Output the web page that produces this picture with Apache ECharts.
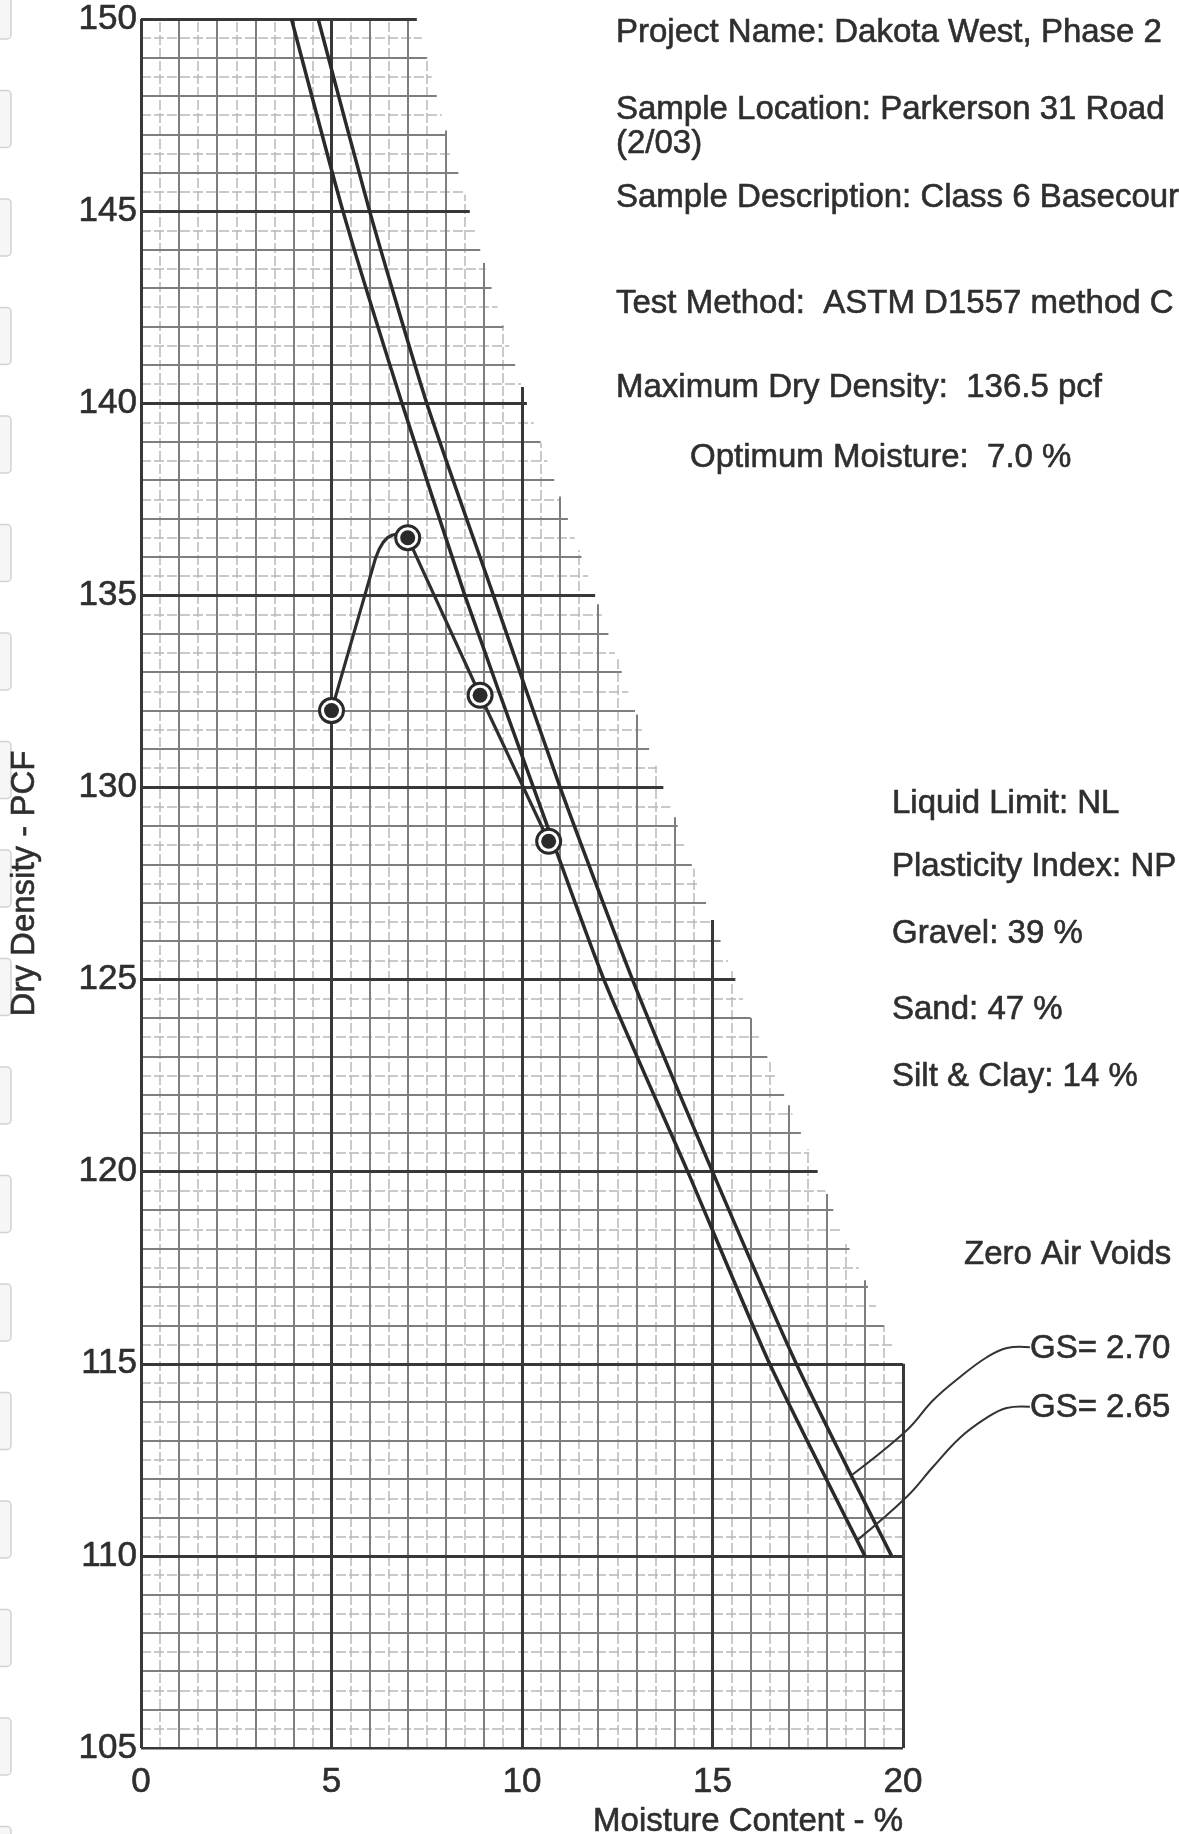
<!DOCTYPE html>
<html><head><meta charset="utf-8">
<script src="https://cdn.jsdelivr.net/npm/echarts@6/dist/echarts.min.js"></script>
<style>html,body{margin:0;padding:0;background:#fff}#c{width:1179px;height:1834px}</style>
</head><body><div id="c"></div>
<script>
// ---- data ----
const xTicks = [0, 5, 10, 15, 20];
const yTicks = [105, 110, 115, 120, 125, 130, 135, 140, 145, 150];
const testPoints = [[5.0, 132.0], [7.0, 136.5], [8.9, 132.4], [10.7, 128.6]];
const curveDrySide = [[5.0, 132.0], [6.15, 135.95], [6.25, 136.2], [6.35, 136.37], [6.47, 136.5], [6.6, 136.57], [6.78, 136.6], [7.0, 136.5]];
const curveWetSide = [[7.0, 136.5], [8.9, 132.4], [10.7, 128.6]];
const zavGs265 = [[3.95, 150], [5.3, 145], [6.85, 140], [8.5, 135], [10.3, 130], [12.15, 125], [14.35, 120], [16.5, 115], [19.0, 110]];
const zavGs270 = [[4.65, 150], [6.0, 145], [7.5, 140], [9.25, 135], [11.0, 130], [12.9, 125], [15.0, 120], [17.2, 115], [19.7, 110]];
const leaderGs270 = [[18.65, 112.1], [20.1, 113.27], [20.79, 114.05], [21.49, 114.65], [22.2, 115.17], [22.73, 115.41], [23.33, 115.43]];
const leaderGs265 = [[18.8, 110.41], [20.1, 111.54], [20.79, 112.32], [21.49, 113.07], [22.19, 113.59], [22.72, 113.85], [23.33, 113.88]];
// edge of the printed graph paper (staircase boundary)
const paperEdgeX = [7.24, 8.0, 8.63, 9.0, 10.13, 11.92, 13.0, 13.71, 15.0, 15.6, 16.0, 17.76, 18.5, 19.06, 19.5, 20.0];
const paperEdgeY = [150, 147.1, 145, 143.65, 140, 135, 131.9, 130, 126.55, 125, 124, 120, 118.2, 117.05, 116, 115];
const infoLines = [
  "Project Name: Dakota West, Phase 2",
  "Sample Location: Parkerson 31 Road",
  "(2/03)",
  "Sample Description: Class 6 Basecourse",
  "Test Method:  ASTM D1557 method C",
  "Maximum Dry Density:  136.5 pcf",
  "Optimum Moisture:  7.0 %"
];
const soilLines = ["Liquid Limit: NL", "Plasticity Index: NP", "Gravel: 39 %", "Sand: 47 %", "Silt & Clay: 14 %"];
const zavTitle = "Zero Air Voids";
const gsLabels = ["GS= 2.70", "GS= 2.65"];

// ---- helpers ----
const FONT = '"Liberation Sans", Arial, sans-serif';
const INK = '#2e2e2e';
function xAt(y) {
  if (y >= paperEdgeY[0]) return paperEdgeX[0];
  if (y <= paperEdgeY[paperEdgeY.length - 1]) return 20;
  for (let i = 0; i < paperEdgeY.length - 1; i++) {
    const y0 = paperEdgeY[i], y1 = paperEdgeY[i + 1];
    if (y <= y0 && y >= y1) return paperEdgeX[i] + (paperEdgeX[i + 1] - paperEdgeX[i]) * (y0 - y) / (y0 - y1);
  }
  return 20;
}
function yAt(x) {
  if (x <= paperEdgeX[0]) return 150;
  if (x >= 20) return 115;
  for (let i = 0; i < paperEdgeX.length - 1; i++) {
    const x0 = paperEdgeX[i], x1 = paperEdgeX[i + 1];
    if (x >= x0 && x <= x1) return paperEdgeY[i] + (paperEdgeY[i + 1] - paperEdgeY[i]) * (x - x0) / (x1 - x0);
  }
  return 115;
}
const gridMajor = [], gridMid = [], gridMinor = [];
function bucket(v) { return (Math.abs(v % 5) < 1e-6) ? gridMajor : (Math.abs(v % 1) < 1e-6 ? gridMid : gridMinor); }
for (let k = 0; k <= 90; k++) {
  const y = 105 + k * 0.5;
  bucket(y).push({ coords: [[0, y], [xAt(y), y]] });
}
for (let k = 0; k <= 40; k++) {
  const x = k * 0.5;
  bucket(x).push({ coords: [[x, 105], [x, yAt(x)]] });
}

const chart = echarts.init(document.getElementById('c'), null, { renderer: 'canvas' });
const labelStyle = { fontSize: 33, color: INK, fontFamily: FONT, textBorderColor: INK, textBorderWidth: 0.6 };
const tickStyle = Object.assign({}, labelStyle, { fontSize: 35 });
chart.setOption({
  animation: false,
  backgroundColor: '#ffffff',
  textStyle: { fontFamily: FONT },
  grid: { left: 141, right: 276, top: 19, bottom: 86, containLabel: false, outerBoundsMode: 'none' },
  xAxis: {
    type: 'value', min: xTicks[0], max: xTicks[xTicks.length - 1], interval: 5,
    axisLine: { show: false }, axisTick: { show: false }, splitLine: { show: false },
    axisLabel: Object.assign({ margin: 17 }, tickStyle),
    name: 'Moisture Content - %', nameLocation: 'end', nameGap: 0,
    nameTextStyle: Object.assign({ align: 'right', verticalAlign: 'top', padding: [57, 0, 0, 0] }, labelStyle)
  },
  yAxis: {
    type: 'value', min: yTicks[0], max: yTicks[yTicks.length - 1], interval: 5,
    axisLine: { show: false }, axisTick: { show: false }, splitLine: { show: false },
    axisLabel: Object.assign({ margin: 4 }, tickStyle),
    name: 'Dry Density - PCF', nameLocation: 'middle', nameGap: 100, nameRotate: 90,
    nameTextStyle: labelStyle
  },
  series: [
    { type: 'lines', coordinateSystem: 'cartesian2d', silent: true, z: 1, data: gridMinor,
      lineStyle: { color: '#b8b8b8', width: 1.5, type: [10, 3], opacity: 1 } },
    { type: 'lines', coordinateSystem: 'cartesian2d', silent: true, z: 2, data: gridMid,
      lineStyle: { color: '#7e7e7e', width: 2, opacity: 1 } },
    { type: 'lines', coordinateSystem: 'cartesian2d', silent: true, z: 3, data: gridMajor,
      lineStyle: { color: '#383838', width: 3, opacity: 1 } },
    { name: 'ZAV GS=2.65', type: 'line', data: zavGs265, showSymbol: false, z: 5, smooth: 0.2,
      lineStyle: { color: '#2a2a2a', width: 3.5 } },
    { name: 'ZAV GS=2.70', type: 'line', data: zavGs270, showSymbol: false, z: 5, smooth: 0.2,
      lineStyle: { color: '#2a2a2a', width: 3.5 } },
    { name: 'Compaction curve (dry side)', type: 'line', data: curveDrySide, showSymbol: false, z: 6,
      lineStyle: { color: '#2e2e2e', width: 3.2, join: 'round' } },
    { name: 'Compaction curve (wet side)', type: 'line', data: curveWetSide, showSymbol: false, z: 6,
      lineStyle: { color: '#2e2e2e', width: 3.2 } },
    { name: 'Test points ring', type: 'scatter', data: testPoints, symbol: 'circle', symbolSize: 24, z: 7,
      itemStyle: { color: '#ffffff', borderColor: '#2a2a2a', borderWidth: 3, opacity: 1 } },
    { name: 'Test points', type: 'scatter', data: testPoints, symbol: 'circle', symbolSize: 15, z: 8,
      itemStyle: { color: '#2a2a2a', opacity: 1 } }
  ]
});

// ---- graphics (text, leaders, scan artefacts) ----
const graphic = [];
for (let k = 0; k < 18; k++) {
  graphic.push({ type: 'rect', z: -10, shape: { x: -6, y: -18 + 108.5 * k, width: 17, height: 57, r: 4 },
    style: { fill: '#f6f6f6', stroke: '#d2d2d2', lineWidth: 1.5 } });
}
function txt(t, x, y) {
  return { type: 'text', x: x, y: y, z: 20,
    style: { text: t, fontSize: 33, fontFamily: FONT, fill: INK, stroke: INK, lineWidth: 0.6, align: 'left', verticalAlign: 'middle' } };
}
const infoX = [616, 616, 616, 616, 616, 616, 690];
const infoY = [33, 110, 144, 198, 304, 388, 458];
infoLines.forEach((t, i) => graphic.push(txt(t, infoX[i], infoY[i])));
const soilY = [804, 867, 934, 1010, 1077];
soilLines.forEach((t, i) => graphic.push(txt(t, 892, soilY[i])));
graphic.push(txt(zavTitle, 964, 1255));
graphic.push(txt(gsLabels[0], 1030, 1349));
graphic.push(txt(gsLabels[1], 1030, 1408));
const toPx = p => chart.convertToPixel({ gridIndex: 0 }, p);
[leaderGs270, leaderGs265].forEach(ld => graphic.push({
  type: 'polyline', z: 15, silent: true,
  shape: { points: ld.map(toPx), smooth: 0.4 },
  style: { stroke: '#333333', lineWidth: 2, fill: null }
}));
chart.setOption({ graphic: graphic });
</script></body></html>
